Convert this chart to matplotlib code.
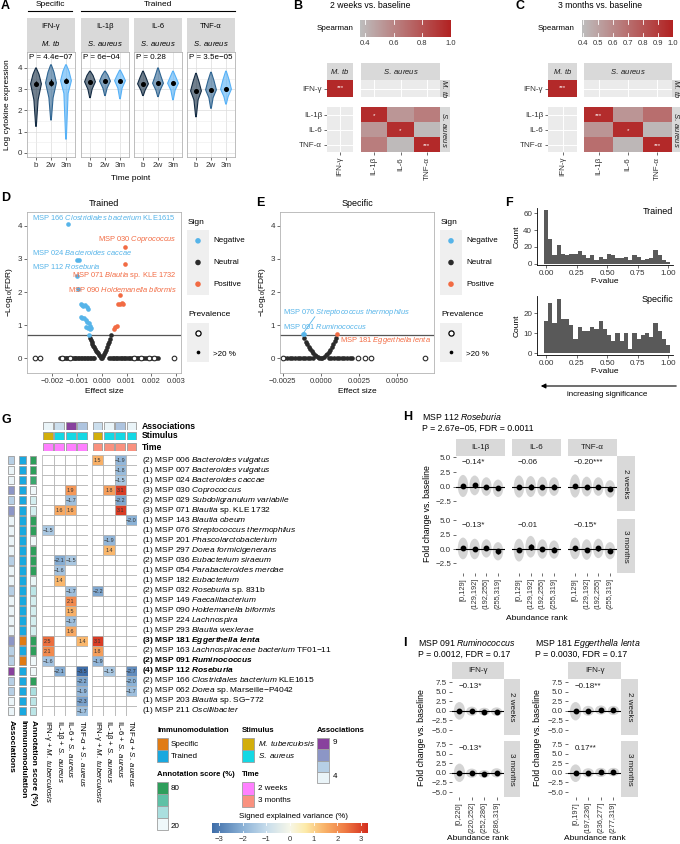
import numpy as np
import matplotlib
matplotlib.use('Agg')
import matplotlib.pyplot as plt
from matplotlib.patches import Rectangle, Polygon, Ellipse
from matplotlib.lines import Line2D
from matplotlib.colors import LinearSegmentedColormap, Normalize

W, H = 680, 844

# ---------------------------------------------------------------
# DATA
# ---------------------------------------------------------------
# A: cytokine levels per time point (violin summaries)
a_cyto = ['IFN-γ', 'IL-1β', 'IL-6', 'TNF-α']
a_stim = ['M. tb', 'S. aureus', 'S. aureus', 'S. aureus']
a_pval = ['P = 4.4e−07', 'P = 6e−04', 'P = 0.28', 'P = 3.5e−05']
a_time = ['b', '2w', '3m']
a_mean = [[3.25, 3.30, 3.40], [3.35, 3.38, 3.40], [3.25, 3.28, 3.28], [2.92, 2.97, 3.00]]
a_err = [[0.12, 0.17, 0.12], [0.06, 0.07, 0.05], [0.06, 0.07, 0.06], [0.08, 0.08, 0.08]]
a_min = [[1.25, 1.55, 0.65], [2.60, 2.70, 2.55], [2.70, 2.65, 2.50], [1.70, 2.10, 2.30]]
a_low = [[2.50, 2.60, 2.80], [3.00, 3.05, 3.05], [2.95, 2.95, 2.95], [2.50, 2.60, 2.65]]
a_high = [[3.70, 3.80, 3.85], [3.65, 3.65, 3.65], [3.55, 3.60, 3.55], [3.35, 3.40, 3.45]]
a_max = [[4.00, 4.15, 4.15], [3.85, 3.85, 3.90], [3.85, 4.00, 3.85], [3.75, 3.80, 3.85]]

# B / C: Spearman correlations
bc_cyto = ['IFN-γ', 'IL-1β', 'IL-6', 'TNF-α']
b_ifn = 0.97
b_sa = [[0.96, 0.53, 0.63], [0.53, 0.95, 0.38], [0.63, 0.38, 0.97]]
b_sa_star = [['*', '', ''], ['', '*', ''], ['', '', '***']]
c_ifn = 0.97
c_sa = [[0.96, 0.55, 0.70], [0.55, 0.96, 0.42], [0.70, 0.42, 0.97]]
c_sa_star = [['***', '', ''], ['', '*', ''], ['', '', '***']]

# D: volcano, trained
d_neg_x = [-0.00136, -0.00100, -0.00093, -0.00101, -0.00097, -0.00085, -0.00080, -0.00075,
           -0.00068, -0.00060, -0.00056, -0.00083, -0.00078, -0.00070, -0.00064, -0.00058,
           -0.00052, -0.00047, -0.00062, -0.00055, -0.00048, -0.00042, -0.00050]
d_neg_y = [4.05, 2.97, 2.97, 2.48, 2.10, 1.64, 1.60, 1.58, 1.62, 1.55, 1.50, 1.25, 1.20,
           1.22, 1.15, 1.10, 1.05, 0.98, 0.95, 0.92, 0.88, 0.90, 0.70]
d_pos_x = [0.00092, 0.00092, 0.00072, 0.00066, 0.00072, 0.00080, 0.00085, 0.00062, 0.00055, 0.00048]
d_pos_y = [3.37, 2.86, 1.90, 1.65, 1.64, 1.66, 1.63, 0.97, 0.93, 0.88]
d_neu_x = [-0.00046, -0.00044, -0.00041, -0.00038, -0.00034, -0.00030, -0.00026, -0.00022,
           -0.00018, -0.00014, -0.00010, -0.00006, -0.00002, 0.00002, 0.00006, 0.00010,
           0.00014, 0.00018, 0.00022, 0.00026, 0.00030, 0.00033, 0.00036]
d_neu_y = [0.62, 0.55, 0.49, 0.43, 0.38, 0.33, 0.28, 0.23, 0.18, 0.14, 0.09, 0.05, 0.01,
           0.01, 0.06, 0.12, 0.19, 0.26, 0.34, 0.42, 0.50, 0.58, 0.70]
d_zero_x = [-0.00170, -0.00165, -0.00158, -0.00151, -0.00146, -0.00139, -0.00133, -0.00127,
            -0.00121, -0.00114, -0.00108, -0.00103, -0.00097, -0.00090, -0.00085, -0.00079,
            -0.00072, -0.00066, -0.00061, -0.00055, -0.00049, -0.00043, -0.00037, -0.00031,
            0.00031, 0.00037, 0.00044, 0.00050, 0.00057, 0.00063, 0.00069, 0.00076, 0.00082,
            0.00089, 0.00095, 0.00101, 0.00108, 0.00114, 0.00121, 0.00127, 0.00134, 0.00141,
            0.00147, 0.00154, 0.00161, 0.00168, 0.00175, 0.00182, 0.00189, 0.00196, 0.00203,
            0.00210, 0.00218, 0.00226]
d_rare_x = [-0.00270, -0.00248, -0.00160, -0.00130, 0.00130, 0.00160, 0.00190, 0.00212, 0.00290]

# E: volcano, specific
e_neg_x = [-0.00118, -0.00110]
e_neg_y = [0.74, 0.72]
e_pos_x = [0.00103]
e_pos_y = [0.74]
e_neu_x = [-0.00112, -0.00100, -0.00090, -0.00080, -0.00070, -0.00060, -0.00050, -0.00040,
           -0.00030, -0.00020, -0.00010, 0.00000, 0.00010, 0.00020, 0.00030, 0.00040,
           0.00050, 0.00060, 0.00070, 0.00080, 0.00090, 0.00098]
e_neu_y = [0.62, 0.50, 0.42, 0.34, 0.27, 0.21, 0.15, 0.10, 0.06, 0.03, 0.01, 0.00, 0.01,
           0.04, 0.08, 0.13, 0.19, 0.26, 0.34, 0.43, 0.52, 0.62]
e_zero_x = [-0.00240, -0.00222, -0.00205, -0.00188, -0.00171, -0.00153, -0.00137, -0.00120,
            -0.00103, -0.00086, -0.00070, -0.00053, 0.00052, 0.00069, 0.00086, 0.00103,
            0.00120, 0.00137, 0.00154, 0.00171, 0.00188, 0.00205]
e_rare_x = [-0.00250, 0.00240, 0.00290, 0.00330, 0.00680]

# F: p-value histograms (30 bins, 0..1)
f_trained = [64, 29, 11, 22, 12, 11, 12, 12, 15, 10, 7, 11, 5, 8, 6, 12, 10, 7, 7, 8,
             4, 10, 8, 4, 6, 7, 16, 10, 4, 2]
f_specific = [16, 25, 15, 27, 17, 17, 14, 7, 13, 11, 11, 13, 12, 16, 12, 9, 6, 10, 6, 10,
              2, 10, 7, 9, 10, 8, 15, 11, 7, 4]

# G: signed explained variance heatmap
g_msp = ['006', '007', '024', '030', '029', '071', '143', '076', '201', '297', '036', '054', '182',
         '032', '149', '090', '224', '293', '181', '163', '091', '112', '166', '062', '203', '211']
g_taxon = ['Bacteroides vulgatus', 'Bacteroides vulgatus', 'Bacteroides caccae', 'Coprococcus',
           'Subdoligranulum variabile', 'Blautia', 'Blautia obeum', 'Streptococcus thermophilus',
           'Phascolarctobacterium', 'Dorea formicigenerans', 'Eubacterium siraeum',
           'Parabacteroides merdae', 'Eubacterium', 'Roseburia', 'Faecalibacterium',
           'Holdemanella biformis', 'Lachnospira', 'Blautia wexlerae', 'Eggerthella lenta',
           'Lachnospiraceae bacterium', 'Ruminococcus', 'Roseburia', 'Clostridiales bacterium',
           'Dorea', 'Blautia', 'Oscillibacter']
g_suffix = ['', '', '', '', '', 'sp. KLE 1732', '', '', '', '', '', '', '', 'sp. 831b', '', '', '',
            '', '', 'TF01−11', '', '', 'KLE1615', 'sp. Marseille−P4042', 'sp. SG−772', '']
g_bold = ['181', '091', '112']
g_immuno = ['Trained'] * 18 + ['Specific', 'Trained', 'Specific'] + ['Trained'] * 5
g_annot = [80, 80, 75, 20, 28, 28, 80, 80, 20, 80, 80, 80, 22, 35, 28, 28, 28, 28,
           80, 80, 20, 20, 80, 40, 35, 35]
g_cols = ['IFN-γ', 'IL-1β', 'IL-6', 'TNF-α']
g_col_stim = ['M. tuberculosis', 'S. aureus', 'S. aureus', 'S. aureus']
g_times = ['2 weeks', '3 months']
N = None
g_vals = [
    [N, N, N, N, 1.5, N, -1.9, N],
    [N, N, N, N, N, N, -1.8, N],
    [N, N, N, N, N, N, -1.5, N],
    [N, N, 1.9, N, N, 1.8, 3.1, N],
    [N, N, -1.7, N, N, N, -2.2, N],
    [N, 1.6, 1.6, N, N, N, 3.1, N],
    [N, N, N, N, N, N, N, -2.0],
    [-1.5, N, N, N, N, N, N, N],
    [N, N, N, N, N, -1.9, N, N],
    [N, N, N, N, N, 1.4, N, N],
    [N, -2.1, -1.5, N, N, N, N, N],
    [N, -1.6, N, N, N, N, N, N],
    [N, 1.4, N, N, N, N, N, N],
    [N, N, -1.7, N, -2.2, N, N, N],
    [N, N, 2.1, N, N, N, N, N],
    [N, N, 1.5, N, N, N, N, N],
    [N, N, -1.7, N, N, N, N, N],
    [N, N, 1.6, N, N, N, N, N],
    [2.5, N, N, 1.4, 3.1, N, N, N],
    [2.1, N, N, N, 1.8, N, N, N],
    [-1.6, N, N, N, -1.9, N, N, N],
    [N, -2.1, N, -3.5, N, -1.5, N, -2.7],
    [N, N, N, -2.2, N, N, N, -2.0],
    [N, N, N, -1.9, N, N, N, -1.7],
    [N, N, N, -2.3, N, N, N, N],
    [N, N, N, -1.7, N, N, N, N],
]

# H: MSP 112 Roseburia, fold change per abundance bin
h_cyto = ['IL-1β', 'IL-6', 'TNF-α']
h_time = ['2 weeks', '3 months']
h_bins = ['[0,129]', '(129,192]', '(192,255]', '(255,319]']
h_mean = [[[0.10, 0.20, 0.00, -0.30], [0.00, 0.00, 0.00, 0.00], [0.10, 0.00, 0.00, -0.40]],
          [[0.10, 0.00, 0.10, -0.40], [-0.20, 0.40, 0.00, -0.10], [0.10, -0.10, 0.10, -0.30]]]
h_err = [[[0.35, 0.40, 0.30, 0.35], [0.35, 0.45, 0.35, 0.40], [0.40, 0.35, 0.30, 0.40]],
         [[0.35, 0.40, 0.35, 0.40], [0.40, 0.55, 0.35, 0.40], [0.40, 0.35, 0.40, 0.35]]]
h_spread = [[[1.9, 1.7, 1.6, 1.5], [1.9, 1.8, 1.7, 1.6], [2.0, 1.7, 1.6, 1.5]],
            [[1.9, 1.8, 1.6, 1.6], [2.0, 1.9, 1.7, 1.6], [1.9, 1.8, 1.7, 1.5]]]
h_rho = [['−0.14*', '−0.06', '−0.20***'], ['−0.13*', '−0.01', '−0.15*']]

# I: IFN-γ fold change for two specific MSPs
i_msp = ['MSP 091', 'MSP 181']
i_taxon = ['Ruminococcus', 'Eggerthella lenta']
i_stats = ['P = 0.0012, FDR = 0.17', 'P = 0.0030, FDR = 0.17']
i_bins = [['[0,220]', '(220,252]', '(252,286]', '(286,319]'],
          ['[0,197]', '(197,236]', '(236,277]', '(277,319]']]
i_mean = [[[0.00, -0.10, -0.20, -0.20], [0.00, -0.10, -0.30, 0.00]],
          [[-0.10, 0.00, 0.20, 0.10], [-0.10, 0.00, 0.10, 0.20]]]
i_err = [[[0.30, 0.25, 0.30, 0.35], [0.30, 0.25, 0.30, 0.30]],
         [[0.30, 0.30, 0.35, 0.35], [0.30, 0.30, 0.30, 0.30]]]
i_spread = [[[2.3, 1.2, 1.0, 1.1], [2.4, 1.2, 1.0, 1.2]],
            [[2.4, 1.3, 1.2, 1.2], [2.3, 1.2, 1.2, 1.1]]]
i_rho = [['−0.13*', '−0.13*'], ['−0.18**', '0.17**']]

# ---------------------------------------------------------------
# STYLE + HELPERS
# ---------------------------------------------------------------
plt.rcParams['font.family'] = ['Liberation Sans', 'DejaVu Sans']
plt.rcParams['mathtext.fontset'] = 'custom'
plt.rcParams['mathtext.rm'] = 'Liberation Sans'
plt.rcParams['mathtext.it'] = 'Liberation Sans:italic'
plt.rcParams['mathtext.bf'] = 'Liberation Sans:bold'
plt.rcParams['mathtext.bfit'] = 'Liberation Sans:italic:bold'
plt.rcParams['font.size'] = 5.5
plt.rcParams['axes.linewidth'] = 0.6
plt.rcParams['xtick.major.width'] = 0.5
plt.rcParams['ytick.major.width'] = 0.5
plt.rcParams['xtick.major.size'] = 2
plt.rcParams['ytick.major.size'] = 2
plt.rcParams['xtick.major.pad'] = 1.5
plt.rcParams['ytick.major.pad'] = 1.5
plt.rcParams['xtick.color'] = '#333333'
plt.rcParams['ytick.color'] = '#333333'
plt.rcParams['xtick.labelcolor'] = '#333333'
plt.rcParams['ytick.labelcolor'] = '#333333'

BLUE = '#56B4E9'
RED = '#F26B43'
DARK = '#2B2B2B'

fig = plt.figure(figsize=(W / 100, H / 100), dpi=100)


def px_axes(x0, y0, x1, y1):
    return fig.add_axes([x0 / W, 1 - y1 / H, (x1 - x0) / W, (y1 - y0) / H])


def ftext(x, y, s, **kw):
    kw.setdefault('va', 'center')
    fig.text(x / W, 1 - y / H, s, **kw)


def fline(x0, y0, x1, y1, **kw):
    fig.add_artist(Line2D([x0 / W, x1 / W], [1 - y0 / H, 1 - y1 / H], **kw))


def fbox(x, y, w, h, color, ec='#9E9E9E'):
    fig.add_artist(Rectangle((x / W, 1 - (y + h) / H), w / W, h / H, facecolor=color,
                             edgecolor=ec, lw=0.6, transform=fig.transFigure))


def it(s):
    return r'$\mathit{' + s.replace(' ', r'\ ') + '}$'


def bit(s):
    return r'$\mathbfit{' + s.replace(' ', r'\ ') + '}$'


def clean(ax):
    ax.set_xticks([])
    ax.set_yticks([])
    for s in ax.spines.values():
        s.set_visible(False)


def strip(x0, y0, x1, y1, text, rot=0, size=5.5):
    ax = px_axes(x0, y0, x1, y1)
    ax.set_facecolor('#D9D9D9')
    clean(ax)
    ax.text(0.5, 0.5, text, transform=ax.transAxes, ha='center', va='center',
            rotation=rot, fontsize=size, color='#1A1A1A')
    return ax


def letter(x, y, s):
    ftext(x, y, s, fontsize=9, fontweight='bold', ha='left')


def hcbar(x0, y0, x1, y1, cmap, vmin, vmax, ticks, labels):
    ax = px_axes(x0, y0, x1, y1)
    grad = np.linspace(vmin, vmax, 256).reshape(1, -1)
    ax.imshow(grad, cmap=cmap, vmin=vmin, vmax=vmax, aspect='auto', extent=(vmin, vmax, 0, 1))
    ax.set_xlim(vmin, vmax)
    ax.set_ylim(0, 1)
    for t in ticks:
        ax.plot([t, t], [0, 0.22], color='white', lw=0.6)
        ax.plot([t, t], [0.78, 1], color='white', lw=0.6)
    ax.set_xticks(ticks)
    ax.set_xticklabels(labels, fontsize=5.5)
    ax.tick_params(axis='x', length=0, pad=2)
    ax.set_yticks([])
    for s in ax.spines.values():
        s.set_visible(False)
    return ax


# ---------------------------------------------------------------
# PANEL A
# ---------------------------------------------------------------
letter(1, 6, 'A')
a_colors = ['#132B43', '#2F6592', '#56B1F7']
a_left = [27, 81, 134, 187]
ftext(50, 5, 'Specific', ha='center', fontsize=6)
fline(28, 11, 72, 11, color='black', lw=0.8)
ftext(158, 5, 'Trained', ha='center', fontsize=6)
fline(81, 11, 235, 11, color='black', lw=0.8)
for k in range(4):
    x0 = a_left[k]
    x1 = x0 + 48
    st = strip(x0, 18, x1, 52, '')
    st.text(0.5, 0.74, a_cyto[k], transform=st.transAxes, ha='center', va='center', fontsize=5.5)
    st.text(0.5, 0.26, it(a_stim[k]), transform=st.transAxes, ha='center', va='center', fontsize=5.5)
    ax = px_axes(x0, 52, x1, 157)
    ax.set_xlim(0.4, 3.6)
    ax.set_ylim(-0.19, 4.75)
    ax.set_yticks([0, 1, 2, 3, 4])
    ax.set_yticks([0.5, 1.5, 2.5, 3.5], minor=True)
    ax.grid(True, which='major', color='#DCDCDC', lw=0.5)
    ax.grid(True, which='minor', color='#EDEDED', lw=0.4)
    ax.tick_params(which='minor', length=0)
    ax.set_axisbelow(True)
    for s in ax.spines.values():
        s.set_color('#B3B3B3')
    for t in range(3):
        xc = t + 1
        ys = [a_min[k][t], a_low[k][t], a_mean[k][t], a_high[k][t], a_max[k][t]]
        hw = [0.02, 0.14, 0.36, 0.2, 0.02]
        verts = [(xc - w, y) for y, w in zip(ys, hw)] + [(xc + w, y) for y, w in zip(ys[::-1], hw[::-1])]
        ax.add_patch(Polygon(verts, closed=True, facecolor=a_colors[t], alpha=0.6, edgecolor='none'))
        ax.add_patch(Polygon(verts, closed=True, facecolor='none', edgecolor=a_colors[t], lw=0.8))
        ax.errorbar(xc, a_mean[k][t], yerr=a_err[k][t], fmt='o', color='black', ms=2.6,
                    elinewidth=0.9, capsize=0)
    ax.text(0.55, 4.5, a_pval[k], ha='left', va='center', fontsize=5.8)
    ax.set_xticks([1, 2, 3])
    ax.set_xticklabels(a_time, fontsize=5.8)
    if k == 0:
        ax.set_yticklabels(['0', '1', '2', '3', '4'], fontsize=5.8)
    else:
        ax.tick_params(axis='y', labelleft=False, length=0)
ftext(131, 178, 'Time point', ha='center', fontsize=6)
ftext(8, 105, 'Log cytokine expression', ha='center', rotation=90, fontsize=6)

# ---------------------------------------------------------------
# PANELS B and C
# ---------------------------------------------------------------
rho_cmap = LinearSegmentedColormap.from_list('rho', ['#BEBEBE', '#B22222'])


def corr_panel(l0, l1, r0, r1, s1, ifn_val, sa_vals, sa_stars, vmin):
    strip(l0, 63, l1, 80, it('M. tb'))
    strip(r0, 63, r1, 80, it('S. aureus'))
    strip(r1, 80, s1, 97, it('M. tb'), rot=-90)
    strip(r1, 107, s1, 152, it('S. aureus'), rot=-90)
    # filled facets
    ax_tl = px_axes(l0, 80, l1, 97)
    ax_tl.pcolormesh(np.array([[ifn_val]]), cmap=rho_cmap, vmin=vmin, vmax=1.0)
    ax_tl.text(0.5, 0.55, '***', color='white', ha='center', va='center', fontsize=4.5)
    ax_br = px_axes(r0, 107, r1, 152)
    ax_br.pcolormesh(np.array(sa_vals), cmap=rho_cmap, vmin=vmin, vmax=1.0)
    ax_br.set_ylim(3, 0)
    for i in range(3):
        for j in range(3):
            if sa_stars[i][j]:
                ax_br.text(j + 0.5, i + 0.6, sa_stars[i][j], color='white', ha='center',
                           va='center', fontsize=4.5)
    # empty facets
    ax_tr = px_axes(r0, 80, r1, 97)
    ax_tr.set_xlim(0, 3)
    ax_tr.set_ylim(1, 0)
    ax_bl = px_axes(l0, 107, l1, 152)
    ax_bl.set_xlim(0, 1)
    ax_bl.set_ylim(3, 0)
    for ax in [ax_tr, ax_bl]:
        ax.set_facecolor('#EBEBEB')
        nx = int(ax.get_xlim()[1])
        ny = int(ax.get_ylim()[0])
        for j in range(nx):
            ax.axvline(j + 0.5, color='white', lw=0.7)
        for i in range(ny):
            ax.axhline(i + 0.5, color='white', lw=0.7)
    for ax in [ax_tl, ax_tr, ax_bl, ax_br]:
        ax.set_xticks([])
        ax.set_yticks([])
        for s in ax.spines.values():
            s.set_visible(False)
    ax_tl.set_yticks([0.5])
    ax_tl.set_yticklabels([bc_cyto[0]], fontsize=5.8)
    ax_bl.set_yticks([0.5, 1.5, 2.5])
    ax_bl.set_yticklabels(bc_cyto[1:], fontsize=5.8)
    ax_bl.set_xticks([0.5])
    ax_bl.set_xticklabels([bc_cyto[0]], rotation=90, fontsize=5.8)
    ax_br.set_xticks([0.5, 1.5, 2.5])
    ax_br.set_xticklabels(bc_cyto[1:], rotation=90, fontsize=5.8)


letter(293, 6, 'B')
ftext(370, 5, '2 weeks vs. baseline', ha='center', fontsize=6.2)
ftext(353, 28, 'Spearman', ha='right', fontsize=5.8)
hcbar(360, 20, 451, 37, rho_cmap, 0.365, 1.0, [0.4, 0.6, 0.8, 1.0], ['0.4', '0.6', '0.8', '1.0'])
corr_panel(327, 353, 361, 440, 450, b_ifn, b_sa, b_sa_star, 0.365)

letter(515, 6, 'C')
ftext(600, 5, '3 months vs. baseline', ha='center', fontsize=6.2)
ftext(575, 28, 'Spearman', ha='right', fontsize=5.8)
hcbar(582, 20, 673, 37, rho_cmap, 0.39, 1.0, [0.4, 0.5, 0.6, 0.7, 0.8, 0.9, 1.0],
      ['0.4', '0.5', '0.6', '0.7', '0.8', '0.9', '1.0'])
corr_panel(548, 577, 584, 672, 680, c_ifn, c_sa, c_sa_star, 0.39)

# ---------------------------------------------------------------
# PANELS D and E (volcano plots)
# ---------------------------------------------------------------


def volcano(ax, neg_x, neg_y, pos_x, pos_y, neu_x, neu_y, zero_x, rare_x):
    ax.axhline(0.7, color='#555555', lw=0.9, zorder=1)
    ax.scatter(zero_x, np.zeros(len(zero_x)), s=11, color=DARK, lw=0, zorder=2)
    ax.scatter(neu_x, neu_y, s=11, color=DARK, lw=0, zorder=2)
    ax.scatter(neg_x, neg_y, s=11, color=BLUE, lw=0, zorder=3)
    ax.scatter(pos_x, pos_y, s=11, color=RED, lw=0, zorder=3)
    ax.scatter(rare_x, np.zeros(len(rare_x)), s=11, facecolor='white', edgecolor=DARK, lw=0.8, zorder=4)
    ax.set_ylim(-0.45, 4.42)
    ax.set_yticks([0, 1, 2, 3, 4])
    ax.set_yticklabels(['0', '1', '2', '3', '4'], fontsize=5.8)
    for s in ax.spines.values():
        s.set_color('#B3B3B3')
    ax.set_ylabel(r'$-$Log$_{10}$(FDR)', fontsize=6, labelpad=2)
    ax.set_xlabel('Effect size', fontsize=6, labelpad=2)


def sign_legend(x0):
    ftext(x0, 222, 'Sign', fontsize=6, ha='left')
    lg = px_axes(x0 - 1, 230, x0 + 21, 295)
    lg.set_facecolor('#EFEFEF')
    clean(lg)
    lg.set_xlim(0, 1)
    lg.set_ylim(3, 0)
    lg.scatter([0.5, 0.5, 0.5], [0.5, 1.5, 2.5], s=16, c=[BLUE, DARK, RED], lw=0)
    for k, lab in enumerate(['Negative', 'Neutral', 'Positive']):
        ftext(x0 + 25, 241 + k * 21.5, lab, fontsize=5.8, ha='left')
    ftext(x0, 315, 'Prevalence', fontsize=6, ha='left')
    lg2 = px_axes(x0 - 1, 323, x0 + 21, 362)
    lg2.set_facecolor('#EFEFEF')
    clean(lg2)
    lg2.set_xlim(0, 1)
    lg2.set_ylim(2, 0)
    lg2.scatter([0.5], [0.5], s=14, facecolor='white', edgecolor='black', lw=0.9)
    lg2.scatter([0.5], [1.5], s=7, color='black', lw=0)
    ftext(x0 + 25, 355, '>20 %', fontsize=5.8, ha='left')


letter(1, 198, 'D')
axd = px_axes(27, 212, 181, 373)
volcano(axd, d_neg_x, d_neg_y, d_pos_x, d_pos_y, d_neu_x, d_neu_y, d_zero_x, d_rare_x)
axd.set_xlim(-0.00302, 0.0032)
axd.set_xticks([-0.002, -0.001, 0, 0.001, 0.002, 0.003])
axd.set_xticklabels(['−0.002', '−0.001', '0.000', '0.001', '0.002', '0.003'], fontsize=5.5)
axd.set_title('Trained', fontsize=6.5, pad=4)
axd.text(-0.0028, 4.24, 'MSP 166 ' + it('Clostridiales bacterium') + ' KLE1615', color=BLUE,
         fontsize=5.4, ha='left', va='center')
axd.text(0.00303, 3.58, 'MSP 030 ' + it('Coprococcus'), color=RED, fontsize=5.4, ha='right', va='center')
axd.text(-0.0028, 3.21, 'MSP 024 ' + it('Bacteroides caccae'), color=BLUE, fontsize=5.4, ha='left', va='center')
axd.text(-0.0028, 2.78, 'MSP 112 ' + it('Roseburia'), color=BLUE, fontsize=5.4, ha='left', va='center')
axd.text(0.00303, 2.50, 'MSP 071 ' + it('Blautia') + ' sp. KLE 1732', color=RED, fontsize=5.4,
         ha='right', va='center')
axd.text(0.00303, 2.09, 'MSP 090 ' + it('Holdemanella biformis'), color=RED, fontsize=5.4,
         ha='right', va='center')
sign_legend(188)

letter(256, 203, 'E')
axe = px_axes(280, 212, 434, 373)
volcano(axe, e_neg_x, e_neg_y, e_pos_x, e_pos_y, e_neu_x, e_neu_y, e_zero_x, e_rare_x)
axe.set_xlim(-0.00268, 0.0074)
axe.set_xticks([-0.0025, 0, 0.0025, 0.005])
axe.set_xticklabels(['−0.0025', '0.0000', '0.0025', '0.0050'], fontsize=5.5)
axe.set_title('Specific', fontsize=6.5, pad=4)
axe.plot([e_neg_x[0], -0.0004], [e_neg_y[0], 1.25], color=BLUE, lw=0.6)
axe.text(-0.00248, 1.39, 'MSP 076 ' + it('Streptococcus thermophilus'), color=BLUE, fontsize=5.4,
         ha='left', va='center')
axe.text(-0.00248, 0.97, 'MSP 091 ' + it('Ruminococcus'), color=BLUE, fontsize=5.4, ha='left', va='center')
axe.text(0.00124, 0.52, 'MSP 181 ' + it('Eggerthella lenta'), color=RED, fontsize=5.4, ha='left', va='center')
sign_legend(441)

# ---------------------------------------------------------------
# PANEL F (p-value histograms)
# ---------------------------------------------------------------
letter(505, 203, 'F')
bw = 1.0 / 29
centers = np.arange(30) * bw
for counts, box, ylim, yt, name in [
        (f_trained, (537, 208, 673, 265), (-1.5, 66.5), [0, 20, 40, 60], 'Trained'),
        (f_specific, (537, 296, 673, 355), (-1.0, 28.5), [0, 10, 20], 'Specific')]:
    ax = px_axes(*box)
    ax.bar(centers, counts, width=bw, color='#595959', linewidth=0)
    ax.set_xlim(-0.074, 1.04)
    ax.set_ylim(*ylim)
    ax.set_yticks(yt)
    ax.set_yticklabels([str(v) for v in yt], fontsize=5.8)
    ax.set_xticks([0, 0.25, 0.5, 0.75, 1.0])
    ax.set_xticklabels(['0.00', '0.25', '0.50', '0.75', '1.00'], fontsize=5.8)
    ax.spines['top'].set_visible(False)
    ax.spines['right'].set_visible(False)
    ax.spines['left'].set_color('black')
    ax.spines['bottom'].set_color('black')
    ax.set_xlabel('P-value', fontsize=6, labelpad=1)
    ax.set_ylabel('Count', fontsize=6, labelpad=2)
    ax.text(1.04, ylim[1] * 0.93, name, ha='right', va='center', fontsize=6.5)
fig.add_artist(matplotlib.patches.FancyArrowPatch((679 / W, 1 - 386 / H), (538 / W, 1 - 386 / H),
                                                  transform=fig.transFigure, arrowstyle='-|>',
                                                  mutation_scale=7, color='black', lw=0.8))
ftext(607, 394, 'increasing significance', ha='center', fontsize=5.8)

# ---------------------------------------------------------------
# PANEL G (heatmap)
# ---------------------------------------------------------------
letter(1, 420, 'G')
g_cmap = LinearSegmentedColormap.from_list('sev', [
    (0.0, '#3F6EA9'), (0.2, '#8DB3D7'), (0.35, '#C8DDEC'), (0.5, '#F7F7E9'),
    (0.6, '#FDEBAA'), (0.72, '#F9B46A'), (0.85, '#F07D45'), (1.0, '#D42E1E')])
g_norm = Normalize(-3.3, 3.3)
assoc_cmap = LinearSegmentedColormap.from_list('assoc', ['#EAF4F8', '#B6CFE5', '#8C96C6', '#88419D'])
annot_cmap = LinearSegmentedColormap.from_list('annot', ['#EFF8FA', '#AADFDF', '#5EC1A6', '#2E9E5B'])
immuno_col = {'Specific': '#E07B14', 'Trained': '#19A8DF'}
stim_col = {'M. tuberculosis': '#D2AE0B', 'S. aureus': '#14D8E4'}
time_col = {'2 weeks': '#FF80FF', '3 months': '#F9917F'}

n_rows = len(g_msp)
row_counts = [sum(v is not None for v in r) for r in g_vals]
col_counts = [sum(r[c] is not None for r in g_vals) for c in range(8)]


def tile_axes(x0, y0, x1, y1, colors, nx, ny):
    ax = px_axes(x0, y0, x1, y1)
    ax.set_xlim(0, nx)
    ax.set_ylim(ny, 0)
    ax.axis('off')
    gx = 0.07
    gy = 0.07 if ny > 1 else 0.0
    for i in range(ny):
        for j in range(nx):
            ax.add_patch(Rectangle((j + gx, i + gy), 1 - 2 * gx, 1 - 2 * gy,
                                   facecolor=colors[i][j], edgecolor='#9A9A9A', lw=0.6))
    return ax


# left row annotations
tile_axes(7, 455, 15, 716, [[assoc_cmap((c - 1) / 3)] for c in row_counts], 1, n_rows)
tile_axes(18, 455, 27, 716, [[immuno_col[m]] for m in g_immuno], 1, n_rows)
tile_axes(29, 455, 37, 716, [[annot_cmap((a - 20) / 60)] for a in g_annot], 1, n_rows)

blocks = [(42, 88), (92, 137)]
for b, (bx0, bx1) in enumerate(blocks):
    # top annotations
    tile_axes(bx0, 422, bx1, 430, [[assoc_cmap((col_counts[4 * b + j] - 4) / 5) for j in range(4)]], 4, 1)
    tile_axes(bx0, 432, bx1, 440, [[stim_col[s] for s in g_col_stim]], 4, 1)
    tile_axes(bx0, 443, bx1, 451, [[time_col[g_times[b]]] * 4], 4, 1)
    ax = px_axes(bx0, 455, bx1, 716)
    ax.set_xlim(0, 4)
    ax.set_ylim(n_rows, 0)
    ax.axis('off')
    for i in range(n_rows):
        for j in range(4):
            v = g_vals[i][4 * b + j]
            fc = 'white' if v is None else g_cmap(g_norm(v))
            ax.add_patch(Rectangle((j, i), 1, 1, facecolor=fc, edgecolor='#ADADAD', lw=0.5))
            if v is not None:
                ax.text(j + 0.5, i + 0.55, f'{v:.1f}'.replace('-', '−'), ha='center', va='center',
                        fontsize=3.9, color='#333333')
    # column labels (rotated)
    for j in range(4):
        xc = bx0 + (bx1 - bx0) * (j + 0.5) / 4
        lab = g_cols[j] + ' + ' + it(g_col_stim[j])
        ftext(xc, 720, lab, rotation=270, rotation_mode='anchor', ha='left', va='center', fontsize=5.6)
    if b == 1:
        for i in range(n_rows):
            head = f'({row_counts[i]}) MSP {g_msp[i]} '
            tail = (' ' + g_suffix[i]) if g_suffix[i] else ''
            if g_msp[i] in g_bold:
                lab = head + bit(g_taxon[i]) + tail
                ax.text(4.45, i + 0.5, lab, ha='left', va='center', fontsize=6.0,
                        fontweight='bold', clip_on=False)
            else:
                lab = head + it(g_taxon[i]) + tail
                ax.text(4.45, i + 0.5, lab, ha='left', va='center', fontsize=6.0, clip_on=False)

for lab, y in [('Associations', 426), ('Stimulus', 436), ('Time', 447)]:
    ftext(142, y, lab, fontsize=6.2, fontweight='bold', ha='left')
for lab, x in [('Associations', 11), ('Immunomodulation', 22.5), ('Annotation score (%)', 33)]:
    ftext(x, 720, lab, rotation=270, rotation_mode='anchor', ha='left', va='center',
          fontsize=6, fontweight='bold')

# G legends
ftext(157, 731, 'Immunomodulation', fontsize=5.6, fontweight='bold', ha='left')
for k, m in enumerate(['Specific', 'Trained']):
    fbox(157, 738 + 12 * k, 11, 12, immuno_col[m])
    ftext(171, 744 + 12 * k, m, fontsize=5.8, ha='left')
ftext(242, 731, 'Stimulus', fontsize=5.6, fontweight='bold', ha='left')
for k, s in enumerate(['M. tuberculosis', 'S. aureus']):
    fbox(242, 738 + 12 * k, 12, 12, stim_col[s])
    ftext(258, 744 + 12 * k, it(s), fontsize=5.8, ha='left')
ftext(317, 731, 'Associations', fontsize=5.6, fontweight='bold', ha='left')
for k in range(4):
    fbox(317, 738 + 11.3 * k, 12, 11.3, assoc_cmap(1 - k / 3))
ftext(333, 743, '9', fontsize=5.8, ha='left')
ftext(333, 777, '4', fontsize=5.8, ha='left')
ftext(157, 775, 'Annotation score (%)', fontsize=5.6, fontweight='bold', ha='left')
for k in range(4):
    fbox(157, 782 + 12 * k, 11, 12, annot_cmap(1 - k / 3))
ftext(171, 788, '80', fontsize=5.8, ha='left')
ftext(171, 826, '20', fontsize=5.8, ha='left')
ftext(242, 775, 'Time', fontsize=5.6, fontweight='bold', ha='left')
for k, t in enumerate(g_times):
    fbox(242, 782 + 12.5 * k, 12, 12.5, time_col[t])
    ftext(258, 788 + 12.5 * k, t, fontsize=5.8, ha='left')
ftext(239, 816, 'Signed explained variance (%)', fontsize=5.8, ha='left')
hcbar(212, 823, 368, 833, g_cmap, -3.3, 3.3, [-3, -2, -1, 0, 1, 2, 3],
      ['−3', '−2', '−1', '0', '1', '2', '3'])

# ---------------------------------------------------------------
# PANELS H and I (fold change vs abundance rank)
# ---------------------------------------------------------------


def fc_facet(ax, means, errs, spread, note, ylim, yticks, ylabels, note_y, bins, show_x, show_y):
    ax.set_xlim(0.4, 4.6)
    ax.set_ylim(*ylim)
    for j in range(4):
        ax.add_patch(Ellipse((j + 1, means[j]), 0.9, 2 * spread[j], facecolor='#CDCDCD',
                             edgecolor='none', alpha=0.85, zorder=1))
    ax.axhline(0, color='black', lw=0.8, zorder=2)
    ax.errorbar(np.arange(1, 5), means, yerr=errs, fmt='o', color='black', ms=3.2,
                elinewidth=0.9, capsize=0, zorder=3)
    ax.text(0.9, note_y, note, ha='left', va='center', fontsize=5.8, color='#1A1A1A')
    for s in ax.spines.values():
        s.set_visible(False)
    ax.set_yticks(yticks)
    if show_y:
        ax.set_yticklabels(ylabels, fontsize=5.8)
    else:
        ax.tick_params(axis='y', length=0, labelleft=False)
    ax.set_xticks([1, 2, 3, 4])
    if show_x:
        ax.set_xticklabels(bins, rotation=90, fontsize=5.3)
    else:
        ax.tick_params(axis='x', length=0, labelbottom=False)


letter(403, 417, 'H')
ftext(422, 417, 'MSP 112 ' + it('Roseburia'), fontsize=6.3, ha='left')
ftext(422, 428, 'P = 2.67e−05, FDR = 0.0011', fontsize=6.3, ha='left')
h_cols = [(456, 505), (512, 561), (568, 617)]
h_rows = [(456, 511), (519, 573)]
h_ticks = [-2.5, 0, 2.5, 5.0]
h_tlab = ['−2.5', '0.0', '2.5', '5.0']
for c, (cx0, cx1) in enumerate(h_cols):
    strip(cx0, 439, cx1, 456, h_cyto[c], size=5.8)
for r, (ry0, ry1) in enumerate(h_rows):
    strip(617, ry0, 635, ry1, h_time[r], rot=-90, size=5.8)
    for c, (cx0, cx1) in enumerate(h_cols):
        ax = px_axes(cx0, ry0, cx1, ry1)
        fc_facet(ax, h_mean[r][c], h_err[r][c], h_spread[r][c], h_rho[r][c], (-4.2, 5.25),
                 h_ticks, h_tlab, 4.1, h_bins, r == 1, c == 0)
ftext(427, 514, 'Fold change vs. baseline', rotation=90, ha='center', fontsize=6.3)
ftext(537, 619, 'Abundance rank', ha='center', fontsize=6)

letter(403, 643, 'I')
i_cols = [(452, 504, 520), (568, 621, 638)]
i_rows = [(679, 735), (741, 797)]
i_ticks = [-5.0, -2.5, 0, 2.5, 5.0, 7.5]
i_tlab = ['−5.0', '−2.5', '0.0', '2.5', '5.0', '7.5']
i_title_x = [418, 535]
i_ylab_x = [422, 538]
for p, (cx0, cx1, sx1) in enumerate(i_cols):
    ftext(i_title_x[p], 643, i_msp[p] + ' ' + it(i_taxon[p]), fontsize=6.3, ha='left')
    ftext(i_title_x[p], 654, i_stats[p], fontsize=6.3, ha='left')
    strip(cx0, 662, cx1, 679, 'IFN-γ', size=5.8)
    for r, (ry0, ry1) in enumerate(i_rows):
        strip(cx1, ry0, sx1, ry1, h_time[r], rot=-90, size=5.8)
        ax = px_axes(cx0, ry0, cx1, ry1)
        fc_facet(ax, i_mean[p][r], i_err[p][r], i_spread[p][r], i_rho[p][r], (-6.3, 8.3),
                 i_ticks, i_tlab, 6.4, i_bins[p], r == 1, True)
    ftext(i_ylab_x[p], 738, 'Fold change vs. baseline', rotation=90, ha='center', fontsize=6.3)
    ftext((cx0 + cx1) / 2, 838, 'Abundance rank', ha='center', fontsize=6)

fig.savefig('out.png', dpi=100)
